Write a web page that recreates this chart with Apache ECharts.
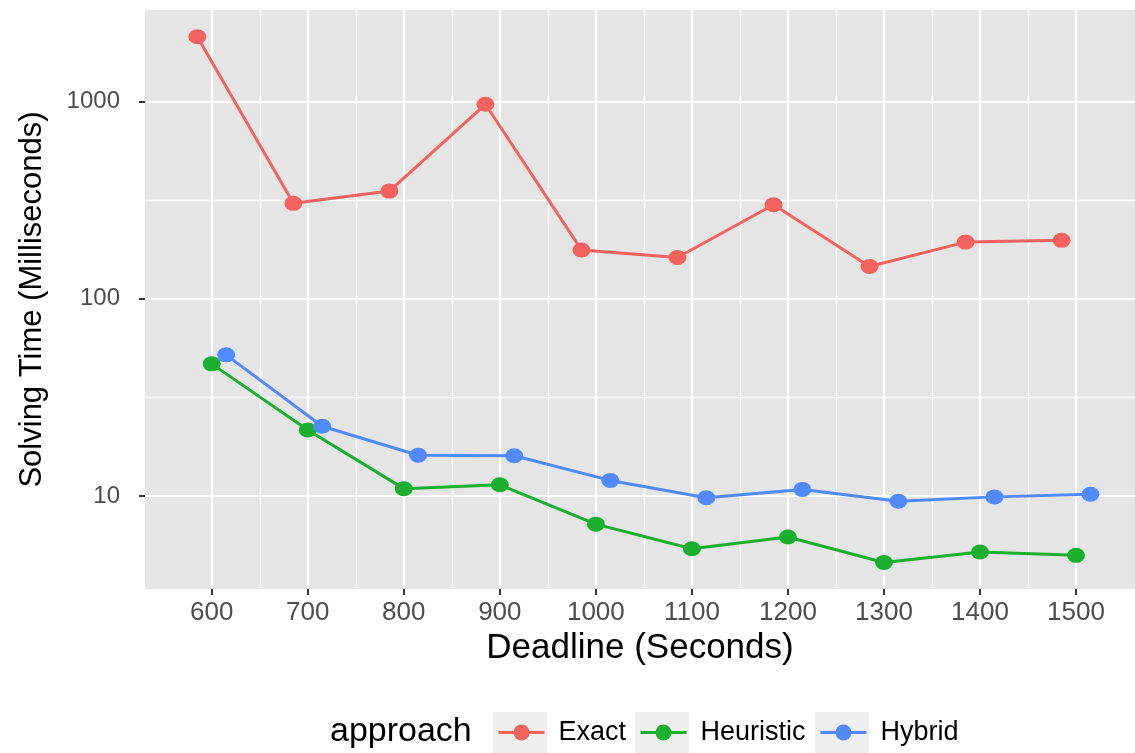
<!DOCTYPE html>
<html>
<head>
<meta charset="utf-8">
<script src="https://cdn.jsdelivr.net/npm/echarts@6/dist/echarts.min.js"></script>
<style>
  html, body { margin: 0; padding: 0; background: #ffffff; }
  #chart { width: 1135px; height: 753px; }
</style>
</head>
<body>
<div id="chart"></div>
<script>
// Solving time per deadline for each approach (milliseconds, log scale)
const deadlines    = [600, 700, 800, 900, 1000, 1100, 1200, 1300, 1400, 1500];
const exactMs      = [2136, 305, 352, 970, 177, 162, 300, 146, 194, 198];
const heuristicMs  = [46.8, 21.6, 10.9, 11.4, 7.2, 5.4, 6.2, 4.6, 5.2, 5.0];
const hybridMs     = [52.0, 22.6, 16.1, 16.0, 12.0, 9.8, 10.8, 9.4, 9.9, 10.2];
const approaches   = ['Exact', 'Heuristic', 'Hybrid'];

// Axis breaks
const xTicks       = [600, 700, 800, 900, 1000, 1100, 1200, 1300, 1400, 1500];
const xMinorBreaks = [650, 750, 850, 950, 1050, 1150, 1250, 1350, 1450];
const yTicks       = [10, 100, 1000];
const yMinorBreaks = [31.62, 316.2];

const FONT = "'Liberation Sans', Arial, Helvetica, sans-serif";
const colors = { Exact: '#F3625E', Heuristic: '#1AAF2F', Hybrid: '#518AFE' };
// points of the three approaches are dodged horizontally around each deadline
const dodge = { Exact: -15, Heuristic: 0, Hybrid: 15 };
const valuesByName = { Exact: exactMs, Heuristic: heuristicMs, Hybrid: hybridMs };

const chart = echarts.init(document.getElementById('chart'), null, { renderer: 'canvas' });

const majorLine = { color: '#ffffff', width: 2.2, type: 'solid' };
const minorLine = { color: '#ffffff', width: 1.3, type: 'solid' };

const gridLines = []
  .concat(xMinorBreaks.map(v => ({ xAxis: v, lineStyle: minorLine })))
  .concat(yMinorBreaks.map(v => ({ yAxis: v, lineStyle: minorLine })))
  .concat(xTicks.map(v => ({ xAxis: v, lineStyle: majorLine })))
  .concat(yTicks.map(v => ({ yAxis: v, lineStyle: majorLine })));

const dataSeries = approaches.map(name => ({
  name: name,
  type: 'line',
  z: 3,
  data: deadlines.map((d, i) => [d + dodge[name], valuesByName[name][i]]),
  symbol: 'circle',
  symbolSize: [18, 15],
  showSymbol: true,
  lineStyle: { color: colors[name], width: 3 },
  itemStyle: { color: colors[name] },
  emphasis: { disabled: true },
  animation: false
}));

const legendLefts = [497, 639, 819];
const keyBoxLefts = [493, 635, 815];

const plainNumber = v => String(v);

const option = {
  animation: false,
  backgroundColor: '#ffffff',
  grid: {
    left: 145, top: 10, right: 0, bottom: 164,
    show: true, backgroundColor: '#E5E5E5', borderWidth: 0
  },
  xAxis: {
    type: 'value',
    min: 530.5,
    max: 1561.4,
    axisLine: { show: false },
    axisTick: { show: true, customValues: xTicks, length: 6, lineStyle: { color: '#333333', width: 2 } },
    axisLabel: { customValues: xTicks, formatter: plainNumber, fontSize: 26, color: '#4D4D4D', fontFamily: FONT, margin: 11 },
    splitLine: { show: false },
    name: 'Deadline (Seconds)',
    nameLocation: 'middle',
    nameGap: 41,
    nameTextStyle: { fontSize: 35, color: '#000000', fontFamily: FONT }
  },
  yAxis: {
    type: 'log',
    logBase: 10,
    min: 3.376,
    max: 2917,
    axisLine: { show: false },
    axisTick: { show: true, customValues: yTicks, length: 6, lineStyle: { color: '#333333', width: 2 } },
    axisLabel: { customValues: yTicks, formatter: plainNumber, fontSize: 24, color: '#4D4D4D', fontFamily: FONT, margin: 25 },
    splitLine: { show: false },
    name: 'Solving Time (Milliseconds)',
    nameLocation: 'middle',
    nameGap: 97,
    nameTextStyle: { fontSize: 31, color: '#000000', fontFamily: FONT }
  },
  legend: approaches.map((name, i) => ({
    data: [name],
    left: legendLefts[i],
    top: 719,
    padding: 0,
    itemWidth: 46,
    itemHeight: 20,
    selectedMode: false,
    lineStyle: { width: 3 },
    textStyle: { fontSize: 27, color: '#000000', fontFamily: FONT, padding: [0, 0, 0, 9] }
  })),
  graphic: [
    {
      type: 'text', z: 10, silent: true,
      style: { x: 0, y: 0, text: 'approach', font: "34px 'Liberation Sans', Arial, sans-serif", fill: '#000000', verticalAlign: 'middle' },
      position: [330, 732]
    }
  ].concat(keyBoxLefts.map(x => ({
    type: 'rect', z: 0, silent: true,
    shape: { x: x, y: 712, width: 54, height: 44 },
    style: { fill: '#EFEFEF' }
  }))),
  series: [
    {
      name: 'gridlines',
      type: 'line',
      data: [],
      z: 1,
      silent: true,
      markLine: {
        silent: true,
        z: 1,
        symbol: ['none', 'none'],
        label: { show: false },
        lineStyle: { type: 'solid' },
        emphasis: { disabled: true },
        animation: false,
        data: gridLines
      }
    }
  ].concat(dataSeries)
};

chart.setOption(option);
</script>
</body>
</html>
